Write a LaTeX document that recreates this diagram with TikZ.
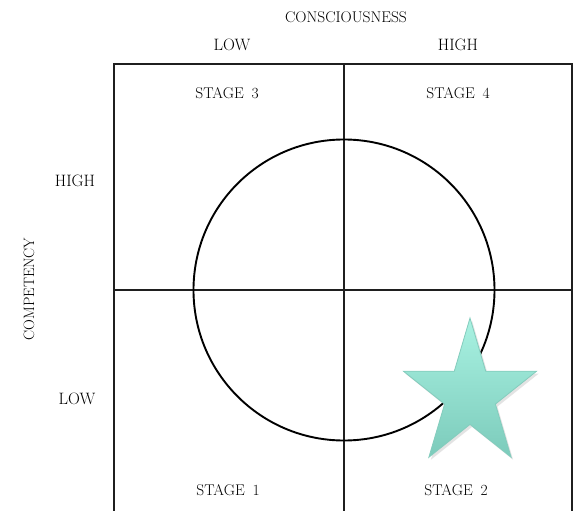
\documentclass[tikz,border=0pt]{standalone}
\usepackage{fontspec}
\usepackage{tikz}
\usetikzlibrary{positioning,shadows}
\definecolor{startop}{HTML}{A9F2E2}
\definecolor{starbot}{HTML}{7CCBBB}
\definecolor{staredge}{HTML}{84CCBD}
\tikzset{
  axlbl/.style  ={font=\fontsize{15.5}{17}\selectfont, inner sep=0pt},
  lvllbl/.style ={axlbl, font=\fontsize{16.5}{18}\selectfont},
  stagelbl/.style={axlbl},
  gridln/.style ={line width=1.5pt, draw=black!88},
  ring/.style   ={circle, draw=black, line width=1.9pt, minimum size=301pt, inner sep=0pt},
  starfill/.style={top color=startop, bottom color=starbot, draw=staredge, line width=0.8pt,
                  line join=miter,
                  drop shadow={opacity=0.22, shadow xshift=2pt, shadow yshift=-2.5pt}},
}

\begin{document}
\begin{tikzpicture}[x=1pt, y=-1pt]
  \useasboundingbox (0,0) rectangle (574,511);
  \coordinate (tl) at (114,64);
  \coordinate (tr) at (572,64);
  \coordinate (bl) at (114,511);
  \coordinate (br) at (572,511);
  \coordinate (tm) at (344,64);
  \coordinate (bm) at (344,511);
  \coordinate (ml) at (114,290);
  \coordinate (mr) at (572,290);
  \coordinate (ctr) at (344,290);
  \draw[gridln] (bl) -- (tl) -- (tr) -- (br);
  \draw[gridln] (tm) -- (bm);
  \draw[gridln] (ml) -- (mr);
  \node[ring] (cycle) at (ctr) {};
  \begin{scope}[shift={(470,395)}]
    \path[starfill] (-90:70 and 77) -- (-54:26.7 and 29.4) -- (-18:70 and 77)
      -- (18:26.7 and 29.4) -- (54:70 and 77) -- (90:26.7 and 29.4)
      -- (126:70 and 77) -- (162:26.7 and 29.4) -- (198:70 and 77)
      -- (234:26.7 and 29.4) -- cycle;
  \end{scope}
  \node[axlbl] (cons) at (346,17) {CONSCIOUSNESS};
  \node[lvllbl] (clow) at (232,45) {LOW};
  \node[lvllbl] (chigh) at (458,45) {HIGH};
  \node[axlbl, rotate=90, font=\fontsize{15}{17}\selectfont] (comp) at (29,289) {COMPETENCY};
  \node[lvllbl] (phigh) at (75,181) {HIGH};
  \node[lvllbl] (plow) at (77,399) {LOW};
  \node[stagelbl] (st3) at (227,93) {STAGE\enspace 3};
  \node[stagelbl] (st4) at (458,93) {STAGE\enspace 4};
  \node[stagelbl] (st1) at (228,490) {STAGE\enspace 1};
  \node[stagelbl] (st2) at (456,490) {STAGE\enspace 2};
\end{tikzpicture}
\end{document}
